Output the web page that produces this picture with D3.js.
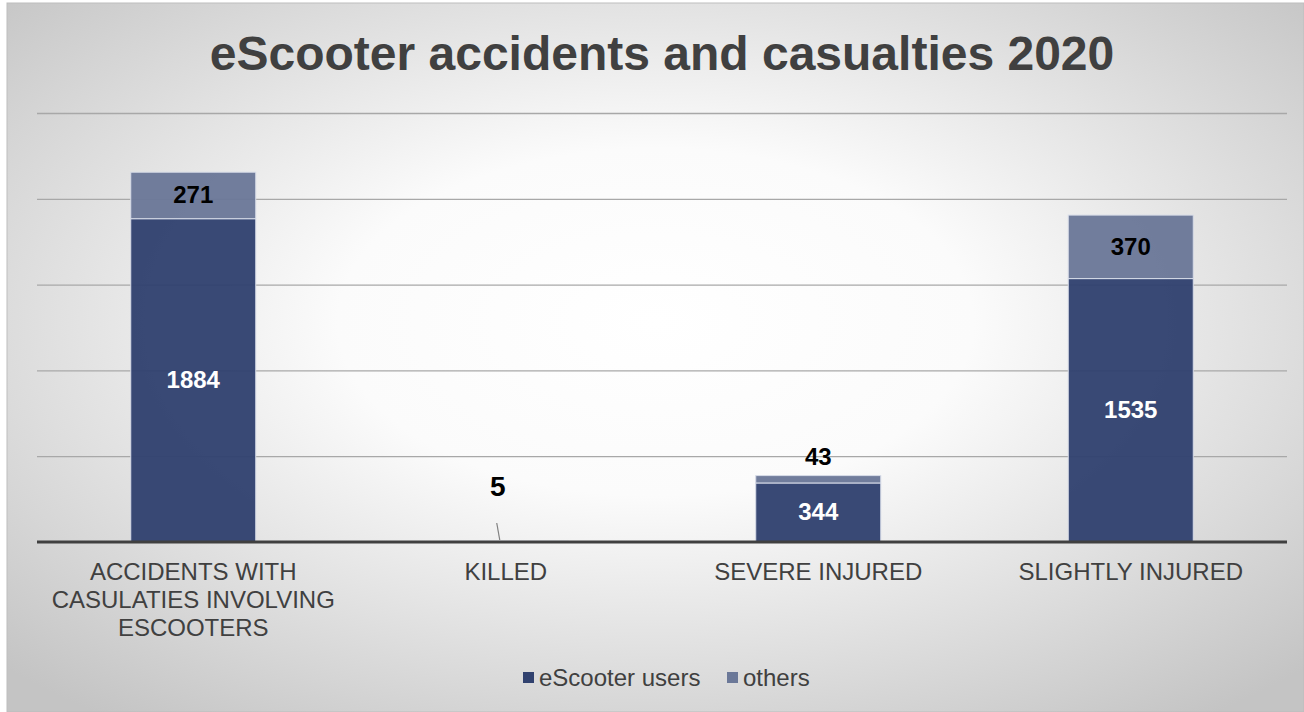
<!DOCTYPE html>
<html>
<head>
<meta charset="utf-8">
<script src="https://cdn.jsdelivr.net/npm/d3@7"></script>
<style>
  html, body { margin: 0; padding: 0; background: #fff; }
  svg { display: block; font-family: "Liberation Sans", Arial, sans-serif; }
</style>
</head>
<body>
<svg id="chart"></svg>
<script>
// chart data
const categories = ["ACCIDENTS WITH CASULATIES INVOLVING ESCOOTERS", "KILLED", "SEVERE INJURED", "SLIGHTLY INJURED"];
const categoryLines = [["ACCIDENTS WITH", "CASULATIES INVOLVING", "ESCOOTERS"], ["KILLED"], ["SEVERE INJURED"], ["SLIGHTLY INJURED"]];
const scooterUsers = [1884, 5, 344, 1535];
const others = [271, 0, 43, 370];
const seriesNames = ["eScooter users", "others"];
const yTicks = [0, 500, 1000, 1500, 2000, 2500];

const W = 1304, H = 712;
const margin = {left: 37, right: 17, top: 113, bottom: 170};
const colors = ["#31426f", "#6b7898"];

const svg = d3.select("#chart").attr("width", W).attr("height", H);

// background with radial gradient
const defs = svg.append("defs");
const grad = defs.append("radialGradient")
    .attr("id", "bg")
    .attr("cx", "50%").attr("cy", "45%").attr("r", "70%");
grad.append("stop").attr("offset", "0%").attr("stop-color", "#ffffff");
grad.append("stop").attr("offset", "35%").attr("stop-color", "#fbfbfb");
grad.append("stop").attr("offset", "100%").attr("stop-color", "#c4c4c4");

svg.append("rect")
    .attr("x", 7).attr("y", 3)
    .attr("width", W - 7).attr("height", H - 3)
    .attr("fill", "url(#bg)")
    .attr("stroke", "#bdbdbd")
    .attr("stroke-width", 1);

// title
svg.append("text")
    .attr("x", 662).attr("y", 70)
    .attr("text-anchor", "middle")
    .attr("font-size", 48)
    .attr("font-weight", "bold")
    .attr("fill", "#404040")
    .text("eScooter accidents and casualties 2020");

const x = d3.scaleBand()
    .domain(categories)
    .range([margin.left, W - margin.right])
    .paddingInner(0.6)
    .paddingOuter(0.3);

const y = d3.scaleLinear()
    .domain([0, 2500])
    .range([H - margin.bottom, margin.top]);

// gridlines
const yAxis = d3.axisLeft(y)
    .tickValues(yTicks.slice(1))
    .tickSize(-(W - margin.right - margin.left))
    .tickFormat("");

svg.append("g")
    .attr("class", "grid")
    .attr("transform", `translate(${margin.left},0)`)
    .call(yAxis)
    .call(g => g.select(".domain").remove())
    .call(g => g.selectAll("line").attr("stroke", "#a8a8a8").attr("stroke-width", 1.3));

// stacked bars
const stacked = categories.map((c, i) => [
    {cat: c, y0: 0, y1: scooterUsers[i], v: scooterUsers[i], s: 0},
    {cat: c, y0: scooterUsers[i], y1: scooterUsers[i] + others[i], v: others[i], s: 1}
]);

const groups = svg.selectAll("g.bars")
    .data(stacked)
    .enter()
    .append("g")
    .attr("class", "bars");

groups.selectAll("rect")
    .data(d => d.filter(p => p.v > 0))
    .enter()
    .append("rect")
    .attr("x", d => x(d.cat))
    .attr("y", d => y(d.y1))
    .attr("width", x.bandwidth())
    .attr("height", d => y(d.y0) - y(d.y1))
    .attr("fill", d => colors[d.s])
    .attr("fill-opacity", 0.96)
    .attr("stroke", "#d7dce8")
    .attr("stroke-width", 1);

// baseline
svg.append("line")
    .attr("x1", margin.left).attr("x2", W - margin.right)
    .attr("y1", y(0)).attr("y2", y(0))
    .attr("stroke", "#404040")
    .attr("stroke-width", 3);

// data labels
const labels = [];
stacked.forEach((pair, i) => {
    const cx = x(pair[0].cat) + x.bandwidth() / 2;
    if (i === 1) {
        // tiny bar: label outside with a leader line
        labels.push({x: cx - 8, y: y(0) - 46, t: pair[0].v, fill: "#000", size: 28});
        svg.append("line")
            .attr("x1", cx - 9).attr("y1", y(0) - 19)
            .attr("x2", cx - 6).attr("y2", y(0) - 2)
            .attr("stroke", "#808080").attr("stroke-width", 1.2);
        return;
    }
    labels.push({x: cx, y: (y(pair[0].y0) + y(pair[0].y1)) / 2 + 8, t: pair[0].v, fill: "#fff", size: 24});
    if (i === 2) {
        labels.push({x: cx, y: y(pair[1].y1) - 11, t: pair[1].v, fill: "#000", size: 24});
    } else {
        labels.push({x: cx, y: (y(pair[1].y0) + y(pair[1].y1)) / 2 + 8, t: pair[1].v, fill: "#000", size: 24});
    }
});

svg.append("g")
    .selectAll("text")
    .data(labels)
    .enter()
    .append("text")
    .attr("x", d => d.x).attr("y", d => d.y)
    .attr("text-anchor", "middle")
    .attr("font-size", d => d.size)
    .attr("font-weight", "bold")
    .attr("fill", d => d.fill)
    .text(d => d.t);

// category labels
const cats = svg.append("g")
    .selectAll("text")
    .data(categories)
    .enter()
    .append("text")
    .attr("x", d => x(d) + x.bandwidth() / 2)
    .attr("y", 580)
    .attr("text-anchor", "middle")
    .attr("font-size", 24)
    .attr("fill", "#404040");

cats.selectAll("tspan")
    .data((d, i) => categoryLines[i])
    .enter()
    .append("tspan")
    .attr("x", function() { return d3.select(this.parentNode).attr("x"); })
    .attr("dy", (d, i) => i === 0 ? 0 : 28)
    .text(d => d);

// legend
const legendItems = [
    {name: seriesNames[0], color: colors[0], x: 523},
    {name: seriesNames[1], color: colors[1], x: 727}
];
const lg = svg.append("g").selectAll("g")
    .data(legendItems)
    .enter()
    .append("g")
    .attr("transform", d => `translate(${d.x},678)`);

lg.append("rect")
    .attr("x", 0).attr("y", -6)
    .attr("width", 11).attr("height", 11)
    .attr("fill", d => d.color);

lg.append("text")
    .attr("x", 16).attr("y", 8)
    .attr("font-size", 24)
    .attr("fill", "#404040")
    .text(d => d.name);
</script>
</body>
</html>
